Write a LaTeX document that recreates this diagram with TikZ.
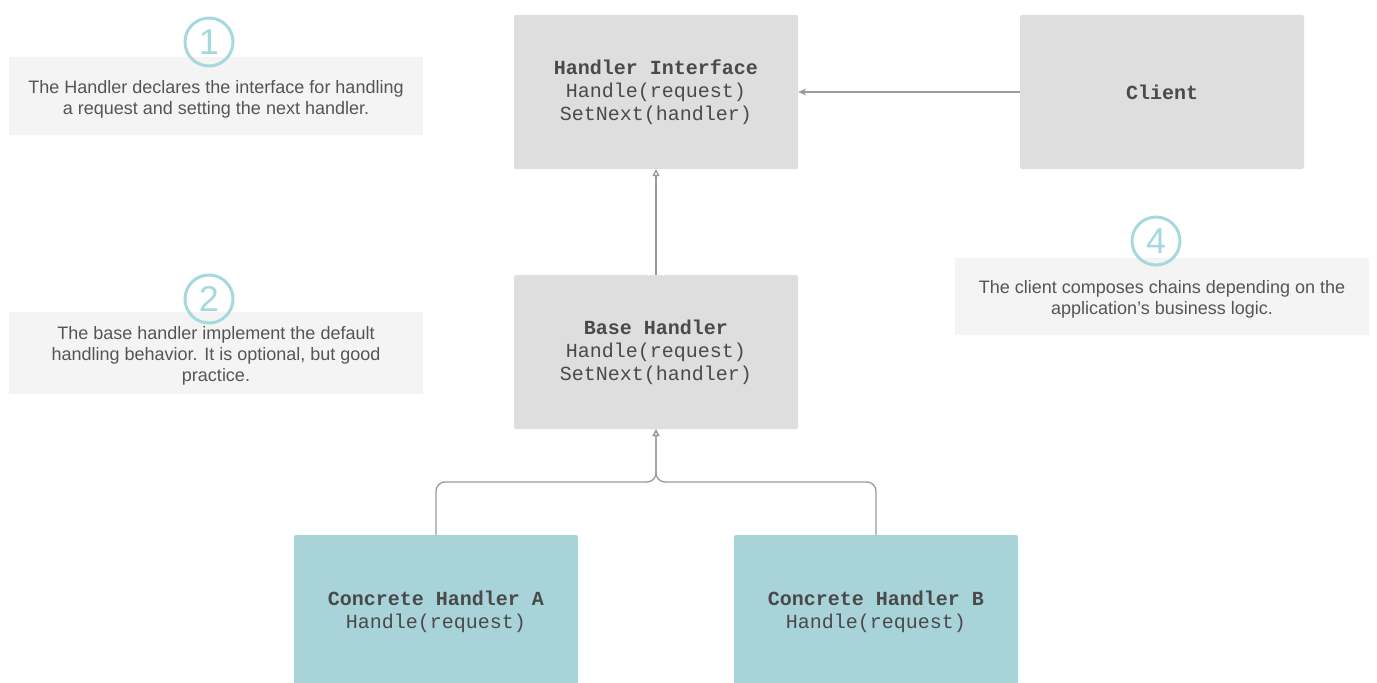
\documentclass[tikz,border=0pt]{standalone}
\usepackage{fontspec}
\setmainfont{Liberation Sans}
\setmonofont{Liberation Mono}
\usetikzlibrary{arrows.meta}
\definecolor{boxgray}{HTML}{DEDEDE}
\definecolor{boxteal}{HTML}{A8D4D9}
\definecolor{notegray}{HTML}{F4F4F4}
\definecolor{circteal}{HTML}{A6D9DD}
\definecolor{txt}{HTML}{4A4A4A}
\definecolor{notetxt}{HTML}{555555}
\definecolor{linegray}{HTML}{9A9A9A}
\tikzset{
  umlbox/.style={rectangle, rounded corners=2pt, minimum width=284pt, minimum height=154pt,
    inner sep=0pt, align=center, text=txt, font=\fontsize{20}{23}\selectfont\ttfamily},
  graybox/.style={umlbox, fill=boxgray},
  tealbox/.style={umlbox, fill=boxteal},
  notebg/.style={rectangle, fill=notegray, minimum width=414pt, inner sep=0pt},
  notetext/.style={inner sep=0pt, align=center, text=notetxt, font=\fontsize{18}{21}\selectfont},
  num/.style={circle, draw=circteal, line width=3pt, minimum size=48pt, inner sep=0pt,
    text=circteal, font=\fontsize{36}{36}\selectfont},
  conn/.style={draw=linegray, line width=1.3pt},
  inh/.style={conn, -{Triangle[open, length=7pt, width=7pt]}},
  use/.style={conn, -{Stealth[length=8pt, width=7pt]}},
}
\begin{document}
\begin{tikzpicture}[x=1pt, y=-1pt]
\useasboundingbox (0,0) rectangle (1377,683);
\clip (0,0) rectangle (1377,683);
% notes
\node[notebg, minimum height=78pt] (n1) at (216,96) {};
\node[notetext] (n1t) at (216,99) {The Handler declares the interface for handling\\a request and setting the next handler.};
\node[notebg, minimum height=82pt] (n2) at (216,353) {};
\node[notetext] (n2t) at (216,356) {The base handler implement the default\\handling behavior. It is optional, but good\\practice.};
\node[notebg, minimum height=77pt] (n4) at (1162,296) {};
\node[notetext] (n4t) at (1162,299.5) {The client composes chains depending on the\\application’s business logic.};
\node[num] (c1) at (209,42) {1};
\node[num] (c2) at (209,299) {2};
\node[num] (c4) at (1156,241) {4};
% boxes
\node[graybox] (hi) at (656,92) {\textbf{Handler Interface}\\Handle(request)\\SetNext(handler)};
\node[graybox] (cl) at (1162,92) {\textbf{Client}};
\node[graybox] (bh) at (656,352) {\textbf{Base Handler}\\Handle(request)\\SetNext(handler)};
\node[tealbox] (ca) at (436,612) {\textbf{Concrete Handler A}\\Handle(request)};
\node[tealbox] (cb) at (876,612) {\textbf{Concrete Handler B}\\Handle(request)};
% connectors
\coordinate (j) at (656,482);
\draw[use] (cl.west) -- (hi.east);
\draw[inh] (bh.north) -- (hi.south);
\draw[inh, rounded corners=9pt] (ca.north) |- (j) -- (bh.south);
\draw[inh, rounded corners=9pt] (cb.north) |- (j) -- (bh.south);
\end{tikzpicture}
\end{document}
